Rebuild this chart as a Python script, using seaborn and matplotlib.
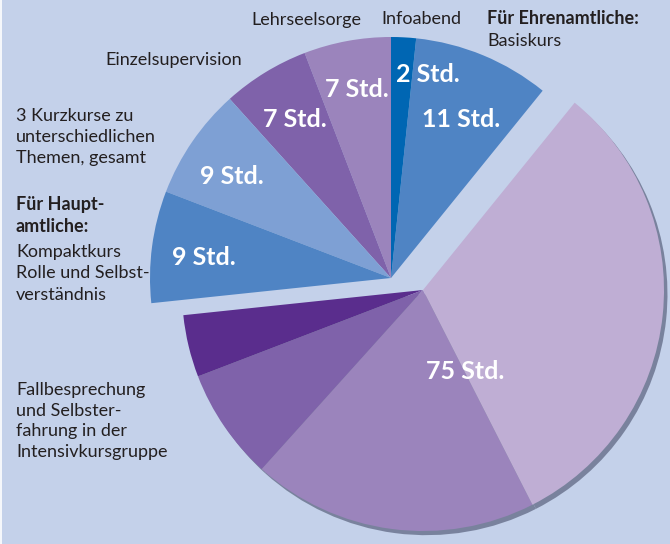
"""Pie chart: Stunden der Ausbildung für Ehren- und Hauptamtliche."""

import matplotlib.pyplot as plt
import matplotlib.patheffects as pe
import seaborn as sns

# ── DATA ─────────────────────────────────────────────────────────────────────
# Wedges counter-clockwise from 12 o'clock. The 75 h block is drawn in four
# shades (sizes).
segments = [
    'Lehrseelsorge', 'Einzelsupervision', 'Kurzkurse', 'Kompaktkurs',
    'Fall_a', 'Fall_b', 'Fall_c', 'Fall_d',
    'Basiskurs', 'Infoabend',
]
hours = [7, 7, 9, 9, 5, 9, 23, 38, 11, 2]
value_labels = ['7 Std.', '7 Std.', '9 Std.', '9 Std.',
                '', '', '', '', '11 Std.', '2 Std.']
block_label = '75 Std.'
block_members = ['Fall_a', 'Fall_b', 'Fall_c', 'Fall_d']

# ── STYLE ────────────────────────────────────────────────────────────────────
BG = '#c4d1ea'
TXT = '#231f20'
COLORS = {
    'Lehrseelsorge': '#9b84bc',
    'Einzelsupervision': '#7f62aa',
    'Kurzkurse': '#7ea0d4',
    'Kompaktkurs': '#4f84c4',
    'Fall_a': '#5a2d8d',
    'Fall_b': '#7f62aa',
    'Fall_c': '#9b84bc',
    'Fall_d': '#bfaed4',
    'Basiskurs': '#4f84c4',
    'Infoabend': '#0066b3',
}

W, H = 670, 544            # output size in px
CX, CY, R = 391, 278, 241  # pie centre / radius in px
BLOCK_SHIFT = (32, 12)     # px offset of the 75 h block (right, down)

# value label baselines in px
VALUE_POS = {
    'Lehrseelsorge': (357, 97),
    'Einzelsupervision': (295, 127),
    'Kurzkurse': (232, 184),
    'Kompaktkurs': (204, 265),
    'Basiskurs': (461, 127),
    'Infoabend': (428, 82),
}
BLOCK_POS = (465, 379)

# category captions: (x, baseline, text, bold)
CAPTIONS = [
    (251, 24.5, 'Lehrseelsorge', False),
    (381, 24.5, 'Infoabend', False),
    (487, 24.5, 'Für Ehrenamtliche:', True),
    (487, 46.5, 'Basiskurs', False),
    (105, 64.5, 'Einzelsupervision', False),
    (16, 121, '3 Kurzkurse zu', False),
    (16, 142, 'unterschiedlichen', False),
    (16, 163, 'Themen, gesamt', False),
    (16, 210, 'Für Haupt-', True),
    (16, 231.5, 'amtliche:', True),
    (16, 257, 'Kompaktkurs', False),
    (16, 278.5, 'Rolle und Selbst-', False),
    (16, 299.5, 'verständnis', False),
    (16, 395, 'Fallbesprechung', False),
    (16, 415.5, 'und Selbster-', False),
    (16, 436, 'fahrung in der', False),
    (16, 456.5, 'Intensivkursgruppe', False),
]


def to_data(x, y):
    """Pixel position (top-left origin) -> pie data units."""
    return (x - CX) / R, (CY - y) / R


def main():
    sns.set_theme(style='white')
    plt.rcParams['font.family'] = ['Lato', 'DejaVu Sans']

    fig = plt.figure(figsize=(W / 100, H / 100), dpi=100, facecolor=BG)
    ax = fig.add_axes([0, 0, 1, 1])
    ax.set_facecolor(BG)

    wedges, _ = ax.pie(
        hours, colors=[COLORS[s] for s in segments], startangle=90,
        counterclock=True, radius=1, wedgeprops={'linewidth': 0},
    )

    # shift the 75 h block and give it a drop shadow
    shift = (BLOCK_SHIFT[0] / R, -BLOCK_SHIFT[1] / R)
    for seg, w in zip(segments, wedges):
        if seg in block_members:
            w.set_center(shift)
            w.set_path_effects([
                pe.SimplePatchShadow(offset=(2.5, -3), shadow_rgbFace='#6c7590',
                                     alpha=0.85),
                pe.Normal(),
            ])

    ax.set_xlim(-CX / R, (W - CX) / R)
    ax.set_ylim(-(H - CY) / R, CY / R)
    ax.set_aspect('equal')
    ax.axis('off')

    # value labels
    for seg, lab in zip(segments, value_labels):
        if lab:
            x, y = to_data(*VALUE_POS[seg])
            ax.text(x, y, lab, color='white', fontsize=18, fontweight='bold',
                    ha='center', va='baseline')
    x, y = to_data(*BLOCK_POS)
    ax.text(x, y, block_label, color='white', fontsize=18, fontweight='bold',
            ha='center', va='baseline')

    # captions
    for x, y, text, bold in CAPTIONS:
        fig.text(x / W, 1 - y / H, text, color=TXT, fontsize=13,
                 fontweight='bold' if bold else 'normal',
                 ha='left', va='baseline')

    # thin white frame edge on the left
    fig.add_artist(plt.Line2D([0.5 / W, 0.5 / W], [0, 1], color='white',
                              lw=1.2, transform=fig.transFigure))

    fig.savefig('out.png', dpi=100, facecolor=BG)


if __name__ == '__main__':
    main()
